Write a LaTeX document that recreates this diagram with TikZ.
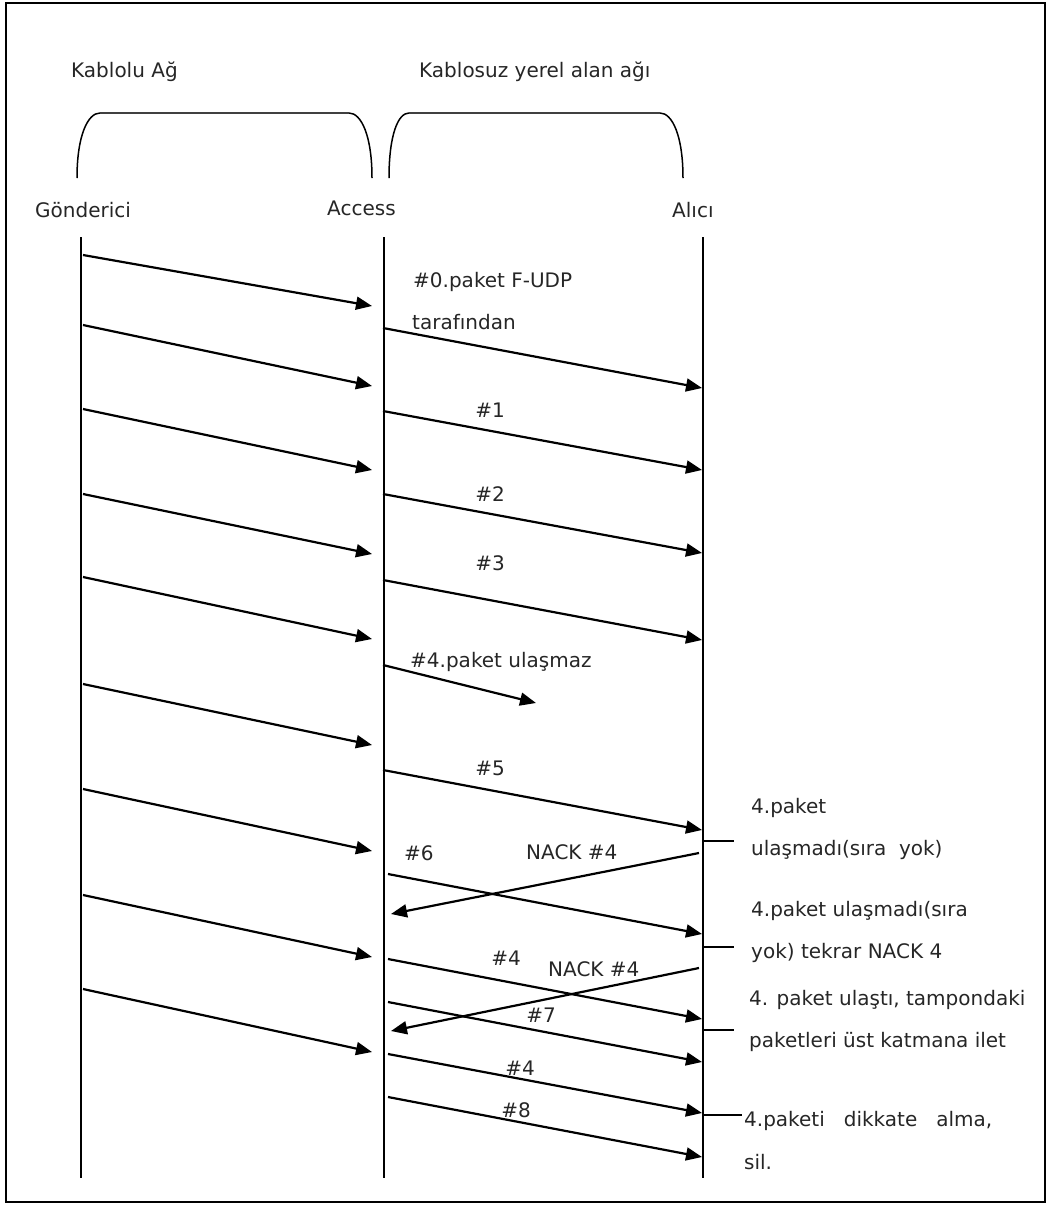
\documentclass[tikz,border=0pt]{standalone}
\usepackage{fontspec}
\setmainfont{DejaVu Sans}
\usetikzlibrary{arrows.meta}
\begin{document}
\begin{tikzpicture}[x=1pt,y=-1pt,
  lbl/.style={inner sep=0pt, font=\fontsize{20}{24}\selectfont, anchor=west, text=black!85},
  num/.style={inner sep=0pt, font=\fontsize{20}{24}\selectfont, text=black!85},
  msg/.style={line width=2.2pt, -{Triangle[length=16pt,width=13pt]}},
  life/.style={line width=1.7pt},
  tickmark/.style={line width=1.7pt},
  brace/.style={line width=1.5pt},
  bracetop/.style={line width=2.8pt, black!75}]
\useasboundingbox (0,0) rectangle (1051,1205);
% outer frame
\draw[line width=2.8pt] (6,3) rectangle (1045,1202);

% network labels and braces
\node[lbl] (wired) at (71,72) {Kablolu Ağ};
\node[lbl] (wlan) at (419,72) {Kablosuz yerel alan ağı};
\draw[brace] (77,178) .. controls (77,135) and (88,113) .. (100,113);
\draw[brace] (349,113) .. controls (361,113) and (372,135) .. (372,178);
\draw[bracetop] (100,113) -- (349,113);
\draw[brace] (389,178) .. controls (389,135) and (398,113) .. (409,113);
\draw[brace] (660,113) .. controls (672,113) and (683,135) .. (683,178);
\draw[bracetop] (409,113) -- (660,113);

% participants
\node[lbl] (snd) at (35,210) {Gönderici};
\node[lbl] (acc) at (327,208) {Access};
\node[lbl] (rcv) at (672,210) {Alıcı};

% lifelines
\coordinate (sndTop) at (81,237);  \coordinate (sndBot) at (81,1178);
\coordinate (accTop) at (384,237); \coordinate (accBot) at (384,1178);
\coordinate (rcvTop) at (703,237); \coordinate (rcvBot) at (703,1178);
\draw[life] (sndTop) -- (sndBot);
\draw[life] (accTop) -- (accBot);
\draw[life] (rcvTop) -- (rcvBot);

% sender -> access point
\foreach \i/\ya/\yb in {1/255/306, 2/325/386, 3/409/470, 4/494/554, 5/577/639,
                        6/684/745, 7/789/851, 8/895/957, 9/989/1052} {
  \coordinate (ls\i) at (83,\ya);
  \coordinate (le\i) at (372,\yb);
  \draw[msg] (ls\i) -- (le\i);
}

% access point -> receiver
\foreach \i/\xa/\ya/\yb in {0/383/328/388, 1/383/411/470, 2/383/494/553,
                            3/383/580/640, 5/383/770/830, 6/388/874/934,
                            r1/388/959/1019, 7/388/1002/1062, r2/388/1054/1113,
                            8/388/1097/1157} {
  \coordinate (rs\i) at (\xa,\ya);
  \coordinate (re\i) at (702,\yb);
  \draw[msg] (rs\i) -- (re\i);
}
% lost packet 4
\coordinate (rs4) at (383,665);
\coordinate (re4) at (536,703);
\draw[msg] (rs4) -- (re4);

% negative acknowledgements
\coordinate (ns1) at (699,853); \coordinate (ne1) at (391,914);
\coordinate (ns2) at (699,968); \coordinate (ne2) at (391,1031);
\draw[msg] (ns1) -- (ne1);
\draw[msg] (ns2) -- (ne2);

% receiver side markers
\foreach \i/\y/\x in {1/841/734, 2/947/734, 3/1030/734, 4/1115/742} {
  \coordinate (ta\i) at (703,\y);
  \coordinate (tb\i) at (\x,\y);
  \draw[tickmark] (ta\i) -- (tb\i);
}

% message labels
\node[lbl] (m0a) at (413,282) {\#0.paket F-UDP};
\node[lbl] (m0b) at (412,322) {tarafından};
\node[num] (m1) at (490,410) {\#1};
\node[num] (m2) at (490,494) {\#2};
\node[num] (m3) at (490,563) {\#3};
\node[lbl] (m4) at (410,662) {\#4.paket ulaşmaz};
\node[num] (m5) at (490,768) {\#5};
\node[lbl] (m6) at (404,853) {\#6};
\node[lbl] (n1) at (526,852) {NACK \#4};
\node[num] (m4b) at (506,958) {\#4};
\node[lbl] (n2) at (548,969) {NACK \#4};
\node[num] (m7) at (541,1015) {\#7};
\node[num] (m4c) at (520,1068) {\#4};
\node[num] (m8) at (516,1110) {\#8};

% receiver notes
\node[lbl] (c1a) at (751,808) {4.paket};
\node[lbl] (c1b) at (751,850) {ulaşmadı(sıra\ \ yok)};
\node[lbl] (c2a) at (751,911) {4.paket ulaşmadı(sıra};
\node[lbl] (c2b) at (751,953) {yok) tekrar NACK 4};
\node[lbl] (c3a) at (749,1000) {4. paket ulaştı, tampondaki};
\node[lbl] (c3b) at (749,1042) {paketleri üst katmana ilet};
\node[lbl] (c4a) at (744,1121) {4.paketi\ \ \ dikkate\ \ \ alma,};
\node[lbl] (c4b) at (744,1162) {sil.};
\end{tikzpicture}
\end{document}
